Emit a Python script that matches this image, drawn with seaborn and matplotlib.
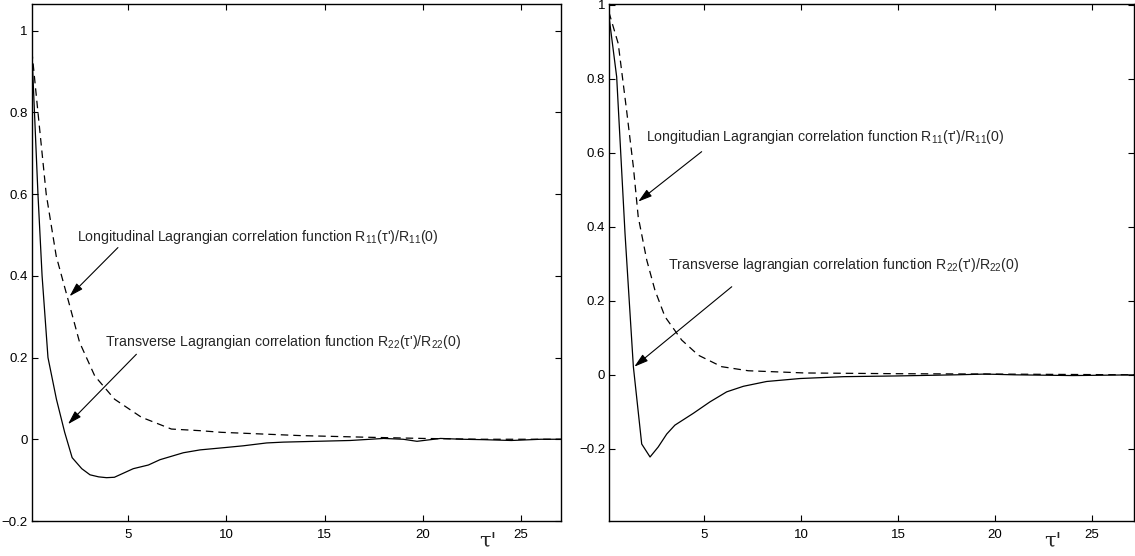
import matplotlib
matplotlib.use("Agg")
import matplotlib.pyplot as plt
import seaborn as sns
import pandas as pd

# ---- data ----
# Left panel
left_tau_R22 = [0.1, 0.41, 0.62, 0.92, 1.35, 1.77, 2.15, 2.64, 3.06, 3.5, 3.9, 4.3, 5.26, 6.03,
                6.62, 7.81, 8.66, 10.0, 10.86, 12.05, 12.9, 13.75, 16.3, 18.0, 19.0, 19.7, 20.9,
                22.0, 23.1, 24.5, 26.0, 27.2]
left_R22 = [0.95, 0.60, 0.40, 0.20, 0.098, 0.017, -0.045, -0.072, -0.087, -0.092, -0.094, -0.093,
            -0.072, -0.063, -0.050, -0.033, -0.026, -0.020, -0.016, -0.009, -0.007, -0.006, -0.003,
            0.002, 0.0, -0.005, 0.002, 0.0, -0.001, -0.003, 0.0, 0.0]
left_tau_R11 = [0.1, 0.41, 0.83, 1.34, 1.94, 2.53, 3.3, 4.31, 5.67, 7.2, 8.66, 9.74, 13.75, 17.1,
                20.0, 23.0, 27.2]
left_R11 = [0.95, 0.80, 0.60, 0.448, 0.342, 0.237, 0.155, 0.098, 0.054, 0.025, 0.021, 0.017, 0.009,
            0.005, 0.002, 0.0, 0.0]

# Right panel
right_tau_R22 = [0.1, 0.5, 0.93, 1.36, 1.79, 2.22, 2.64, 3.08, 3.5, 4.45, 5.31, 6.17, 7.03, 8.23,
                 9.95, 12.2, 15.0, 18.0, 19.5, 21.0, 24.0, 27.3]
right_R22 = [0.97, 0.805, 0.382, 0.022, -0.187, -0.222, -0.195, -0.160, -0.136, -0.104, -0.073,
             -0.046, -0.031, -0.018, -0.010, -0.005, -0.003, 0.0, 0.002, 0.0, -0.002, 0.0]
right_tau_R11 = [0.1, 0.58, 1.01, 1.36, 1.61, 2.05, 2.47, 2.99, 3.85, 4.71, 5.91, 7.28, 10.2, 15.0,
                 20.0, 27.3]
right_R11 = [0.98, 0.895, 0.715, 0.562, 0.427, 0.31, 0.229, 0.157, 0.094, 0.053, 0.022, 0.011,
             0.005, 0.003, 0.002, 0.0]

x_ticks = [5, 10, 15, 20, 25]
y_ticks = [-0.2, 0, 0.2, 0.4, 0.6, 0.8, 1]
y_tick_labels = ["−0.2", "0", "0.2", "0.4", "0.6", "0.8", "1"]

left_label_R11 = "Longitudinal Lagrangian correlation function R$_{11}$(τ')/R$_{11}$(0)"
left_label_R22 = "Transverse Lagrangian correlation function R$_{22}$(τ')/R$_{22}$(0)"
right_label_R11 = "Longitudian Lagrangian correlation function R$_{11}$(τ')/R$_{11}$(0)"
right_label_R22 = "Transverse lagrangian correlation function R$_{22}$(τ')/R$_{22}$(0)"
xlabel = "τ'"

# ---- style ----
sns.set_style("ticks")
plt.rcParams["font.family"] = ["Liberation Sans", "DejaVu Sans"]
plt.rcParams["mathtext.fontset"] = "custom"
plt.rcParams["mathtext.rm"] = "Liberation Sans"
plt.rcParams["mathtext.it"] = "Liberation Sans:italic"
plt.rcParams["axes.unicode_minus"] = True

fig = plt.figure(figsize=(11.35, 5.56), dpi=100)
W, H = 1135.0, 556.0
axL = fig.add_axes([32 / W, (H - 521) / H, (561 - 32) / W, (521 - 4) / H])
axR = fig.add_axes([609.3 / W, (H - 521) / H, (1134 - 609.3) / W, (521 - 4) / H])

def draw(ax, t22, r22, t11, r11):
    d22 = pd.DataFrame({"tau": t22, "R": r22})
    d11 = pd.DataFrame({"tau": t11, "R": r11})
    sns.lineplot(data=d22, x="tau", y="R", ax=ax, color="black", lw=0.9, sort=False)
    sns.lineplot(data=d11, x="tau", y="R", ax=ax, color="black", lw=0.9, sort=False,
                 linestyle=(0, (6, 4)))
    ax.set_xlabel("")
    ax.set_ylabel("")
    ax.set_xticks(x_ticks)
    ax.set_yticks(y_ticks)
    ax.set_yticklabels(y_tick_labels)
    ax.tick_params(direction="in", top=True, right=True, length=4, width=0.8,
                   labelsize=9.5, colors="black")
    ax.tick_params(axis="x", pad=6)
    ax.tick_params(axis="y", pad=3)
    for s in ax.spines.values():
        s.set_linewidth(1.0)
        s.set_color("black")

draw(axL, left_tau_R22, left_R22, left_tau_R11, left_R11)
draw(axR, right_tau_R22, right_R22, right_tau_R11, right_R11)

axL.set_xlim(0.107, 27.03)
axL.set_ylim(-0.2, 1.065)
axR.set_xlim(0.12, 27.16)
axR.set_ylim(-0.395, 1.002)

aprops = dict(arrowstyle="-|>,head_width=0.18,head_length=0.6", color="black", lw=0.8,
              shrinkA=0, shrinkB=0, mutation_scale=14)
tfs = 10.2

axL.text(2.41, 0.494, left_label_R11, fontsize=tfs, va="center", ha="left")
axL.text(3.84, 0.237, left_label_R22, fontsize=tfs, va="center", ha="left")
axL.annotate("", xy=(2.02, 0.35), xytext=(4.48, 0.469), arrowprops=aprops)
axL.annotate("", xy=(1.94, 0.037), xytext=(5.42, 0.208), arrowprops=aprops)

axR.text(1.99, 0.643, right_label_R11, fontsize=tfs, va="center", ha="left")
axR.text(3.16, 0.296, right_label_R22, fontsize=tfs, va="center", ha="left")
axR.annotate("", xy=(1.61, 0.468), xytext=(4.88, 0.603), arrowprops=aprops)
axR.annotate("", xy=(1.41, 0.022), xytext=(6.43, 0.238), arrowprops=aprops)

for ax, xl in ((axL, 23.3), (axR, 23.0)):
    ax.text(xl, -0.02, xlabel, transform=ax.get_xaxis_transform(), ha="center", va="top",
            fontsize=15, family=["DejaVu Serif"])

fig.savefig("out.png", dpi=100)
